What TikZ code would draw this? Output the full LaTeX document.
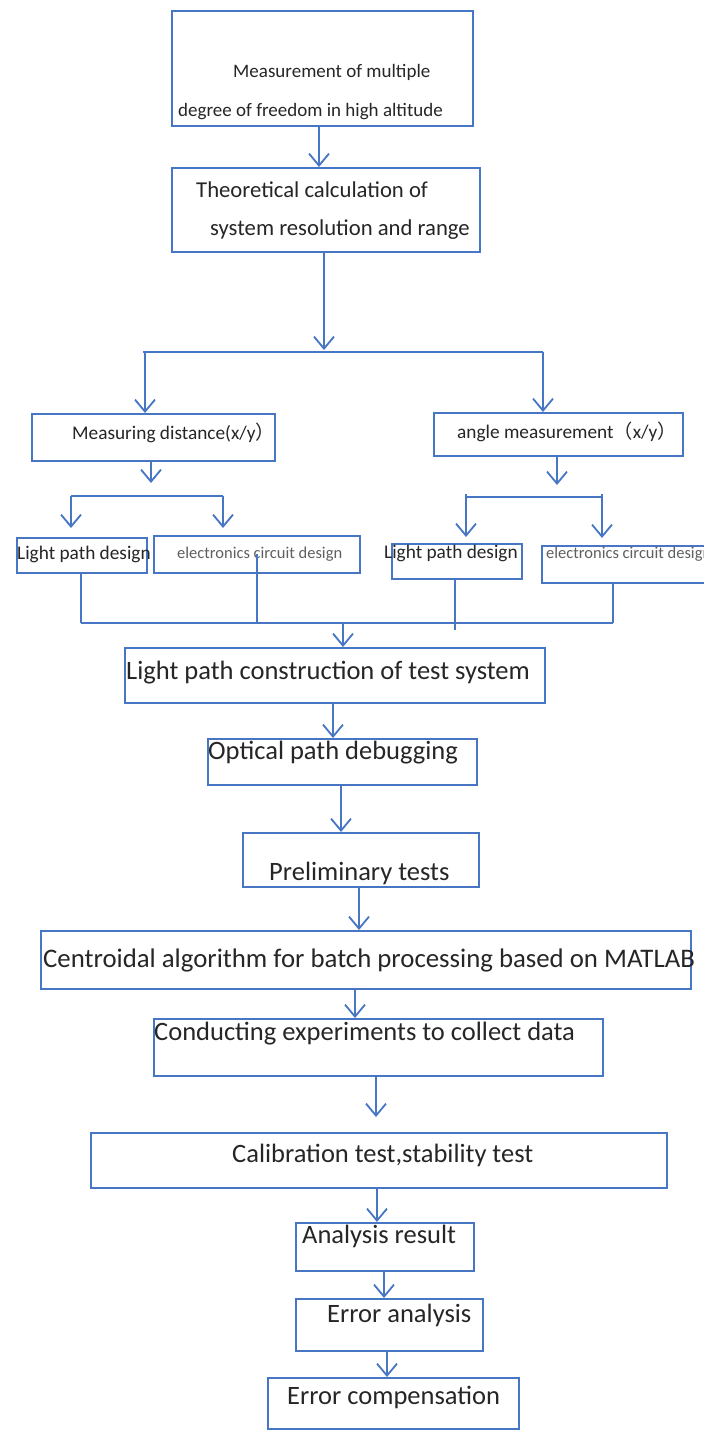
\documentclass[tikz,border=0pt]{standalone}
\usepackage{fontspec}
\setmainfont{Carlito}
\newfontfamily\cjkfont{Noto Sans CJK SC}
\usetikzlibrary{arrows.meta}
\definecolor{lineblue}{RGB}{70,118,196}
\definecolor{txt}{RGB}{38,38,38}
\definecolor{lighttxt}{RGB}{95,95,95}
\newcommand{\fsz}[1]{\fontsize{#1}{#1}\selectfont}
\begin{document}
\begin{tikzpicture}[x=1pt,y=-1pt,
  box/.style={draw=lineblue, line width=1.8pt, rectangle, inner sep=0pt, anchor=north west},
  conn/.style={draw=lineblue, line width=1.8pt},
  arr/.style={conn, -{Straight Barb[length=12pt,width=20pt]}},
  lbl/.style={anchor=west, inner sep=0pt, text=txt},
  big/.style={lbl, font=\fsz{26.5}},
  mid/.style={lbl, font=\fsz{19.3}},
  small/.style={lbl, text=lighttxt, font=\fsz{16.5}}]
\useasboundingbox (0,0) rectangle (704,1430);
\fill[white] (0,0) rectangle (704,1430);
\clip (0,0) rectangle (704,1430);

% boxes
\node[box, minimum width=301pt, minimum height=115pt] (b1) at (171,10) {};
\node[box, minimum width=308pt, minimum height=84pt] (b2) at (171,167) {};
\node[box, minimum width=243pt, minimum height=47pt] (b3) at (31,413) {};
\node[box, minimum width=249pt, minimum height=43pt] (b4) at (433,412) {};
\node[box, minimum width=130pt, minimum height=35pt] (b5) at (16,537) {};
\node[box, minimum width=206pt, minimum height=37pt] (b6) at (153,535) {};
\node[box, minimum width=130pt, minimum height=35pt] (b7) at (391,543) {};
\node[box, minimum width=175pt, minimum height=37pt] (b8) at (541,545) {};
\node[box, minimum width=420pt, minimum height=55pt] (b9) at (124,647) {};
\node[box, minimum width=269pt, minimum height=46pt] (b10) at (207,738) {};
\node[box, minimum width=236pt, minimum height=54pt] (b11) at (242,832) {};
\node[box, minimum width=650pt, minimum height=58pt] (b12) at (40,930) {};
\node[box, minimum width=449pt, minimum height=57pt] (b13) at (153,1018) {};
\node[box, minimum width=576pt, minimum height=55pt] (b14) at (90,1132) {};
\node[box, minimum width=178pt, minimum height=48pt] (b15) at (295,1222) {};
\node[box, minimum width=187pt, minimum height=52pt] (b16) at (295,1298) {};
\node[box, minimum width=251pt, minimum height=51pt] (b17) at (267,1377) {};

% texts
\node[mid, font=\fsz{19}] (t1a) at (233,72) {Measurement of multiple};
\node[mid, font=\fsz{19}] (t1b) at (178,112) {degree of freedom in high altitude};
\node[lbl, font=\fsz{22.7}] (t2a) at (196,190) {Theoretical calculation of};
\node[lbl, font=\fsz{22.7}] (t2b) at (210,230) {system resolution and range};
\node[mid] (t3) at (72,433) {Measuring distance(x/y{\cjkfont ）}};
\node[mid] (t4) at (457,432) {angle measurement{\cjkfont （}x/y{\cjkfont ）}};
\node[mid] (t5) at (17,554) {Light path design};
\node[small] (t6) at (177,554) {electronics circuit design};
\node[mid] (t7) at (384,553) {Light path design};
\node[small] (t8) at (546,554) {electronics circuit design};
\node[big] (t9) at (126,673) {Light path construction of test system};
\node[big] (t10) at (208,753) {Optical path debugging};
\node[big] (t11) at (269,873) {Preliminary tests};
\node[big, font=\fsz{26.8}] (t12) at (43,960) {Centroidal algorithm for batch processing based on MATLAB};
\node[big] (t13) at (154,1034) {Conducting experiments to collect data};
\node[big] (t14) at (232,1155) {Calibration test,stability test};
\node[big] (t15) at (302,1236) {Analysis result};
\node[big] (t16) at (327,1315) {Error analysis};
\node[big] (t17) at (287,1397) {Error compensation};

% connector coordinates
\coordinate (k1) at (319,0);
\coordinate (k2) at (324,0);
\coordinate (s1) at (324,350);
\coordinate (s1l) at (143,352);
\coordinate (s1a) at (145,352);
\coordinate (s1r) at (543,352);
\coordinate (k3) at (151,483);
\coordinate (s2l) at (71,496);
\coordinate (s2r) at (223,496);
\coordinate (e2l) at (71,528);
\coordinate (e2r) at (223,528);
\coordinate (k4) at (557,485);
\coordinate (s3l) at (466,494);
\coordinate (s3r) at (602,494);
\coordinate (h3l) at (466,497);
\coordinate (h3r) at (602,497);
\coordinate (e3l) at (466,537);
\coordinate (e3r) at (602,538);
\coordinate (m1) at (81,623);
\coordinate (m2) at (257,623);
\coordinate (m3) at (455,630);
\coordinate (m4) at (613,623);
\coordinate (m0) at (343,623);
\coordinate (k5) at (333,0);
\coordinate (k6) at (341,0);
\coordinate (k7) at (359,0);
\coordinate (k8) at (355,0);
\coordinate (k9) at (376,1117);
\coordinate (k10) at (377,0);
\coordinate (k11) at (384,0);
\coordinate (k12) at (387,0);

% connectors
\draw[arr] (b1.south -| k1) -- (b2.north -| k1);
\draw[arr] (b2.south -| k2) -- (s1);
\draw[conn] (s1l) -- (s1r);
\draw[arr] (s1a) -- (b3.north -| s1a);
\draw[arr] (s1r) -- (b4.north -| s1r);
\draw[arr] (b3.south -| k3) -- (k3);
\draw[conn] (s2l) -- (s2r);
\draw[arr] (s2l) -- (e2l);
\draw[arr] (s2r) -- (e2r);
\draw[arr] (b4.south -| k4) -- (k4);
\draw[conn] (h3l) -- (h3r);
\draw[arr] (s3l) -- (e3l);
\draw[arr] (s3r) -- (e3r);
\draw[conn] (b5.south -| m1) -- (m1);
\draw[conn] (b6.center -| m2) -- (m2);
\draw[conn] (b7.south -| m3) -- (m3);
\draw[conn] (b8.south -| m4) -- (m4);
\draw[conn] (m1) -- (m4);
\draw[arr] (m0) -- (b9.north -| m0);
\draw[arr] (b9.south -| k5) -- (b10.north -| k5);
\draw[arr] (b10.south -| k6) -- (b11.north -| k6);
\draw[arr] (b11.south -| k7) -- (b12.north -| k7);
\draw[arr] (b12.south -| k8) -- (b13.north -| k8);
\draw[arr] (b13.south -| k9) -- (k9);
\draw[arr] (b14.south -| k10) -- (b15.north -| k10);
\draw[arr] (b15.south -| k11) -- (b16.north -| k11);
\draw[arr] (b16.south -| k12) -- (b17.north -| k12);
\end{tikzpicture}
\end{document}
